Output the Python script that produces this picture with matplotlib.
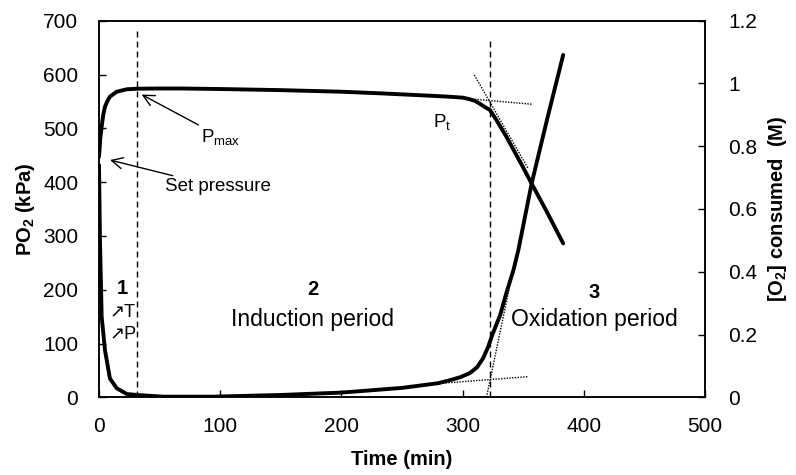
import matplotlib
matplotlib.use("Agg")
import matplotlib.pyplot as plt
import numpy as np

plt.rcParams['font.family'] = ['Liberation Sans', 'DejaVu Sans']
plt.rcParams['mathtext.fontset'] = 'custom'
plt.rcParams['mathtext.rm'] = 'Liberation Sans'
plt.rcParams['mathtext.it'] = 'Liberation Sans'
plt.rcParams['mathtext.bf'] = 'Liberation Sans:bold'

# ---- data ----
time_p = [0, 0.5, 1, 2.2, 3.5, 4.9, 7, 9.1, 14.6, 22.9, 31.6, 50, 67, 100, 149, 200,
          232, 260, 287, 300, 306, 310, 314, 318, 322.6, 328, 336, 343, 350, 357, 369, 383]
pressure = [447, 462, 480, 503, 525, 540, 551, 559, 568, 572.5, 573.6, 574, 574, 573, 571, 568,
            565, 562, 559, 557, 554, 551, 546, 540, 534, 515, 485, 456, 427, 397, 347, 286]

time_c = [0, 0.8, 2.2, 4.9, 9, 14.6, 22.9, 31.6, 53, 94, 149, 200, 250, 280, 290, 298,
          306, 312, 317, 321, 325, 331, 336, 342, 346, 357, 370, 383]
consumed = [0.74, 0.5, 0.257, 0.151, 0.06, 0.029, 0.0105, 0.0073, 0.002, 0.002, 0.0073, 0.015,
            0.03, 0.045, 0.055, 0.064, 0.077, 0.096, 0.125, 0.16, 0.204, 0.262, 0.331, 0.406,
            0.469, 0.682, 0.89, 1.091]

# vertical period boundaries (time, top pressure)
boundary_t = [31.6, 322.6]
boundary_top = [685, 670]

# tangent construction lines
tan_p_flat_t = [310, 358]
tan_p_flat_v = [554, 544.6]
tan_p_slope_t = [309.7, 354]
tan_p_slope_v = [599, 425.6]
tan_c_flat_t = [270, 354]
tan_c_flat_v = [0.041, 0.0657]
tan_c_slope_t = [319.7, 344]
tan_c_slope_v = [0.0, 0.45]

x_ticks = [0, 100, 200, 300, 400, 500]
y_ticks = [0, 100, 200, 300, 400, 500, 600, 700]
y2_ticks = [0, 0.2, 0.4, 0.6, 0.8, 1.0, 1.2]
y2_labels = ['0', '0.2', '0.4', '0.6', '0.8', '1', '1.2']

# ---- figure ----
fig = plt.figure(figsize=(7.96, 4.75), dpi=100)
ax = fig.add_axes([99/796, 1-397.3/475, (705-99)/796, (397.3-20.7)/475])
ax2 = ax.twinx()

ax.plot(time_p, pressure, color='black', lw=2.8, solid_capstyle='round',
        solid_joinstyle='round', zorder=3)
ax2.plot(time_c, consumed, color='black', lw=2.8, solid_capstyle='round',
         solid_joinstyle='round', zorder=3)

for t, top in zip(boundary_t, boundary_top):
    ax.plot([t, t], [0, top], color='black', lw=1.0, ls=(0, (4.3, 2.9)), zorder=2)

ax.plot(tan_p_flat_t, tan_p_flat_v, color='black', lw=1.0, ls=(0, (1, 1)), zorder=2)
ax.plot(tan_p_slope_t, tan_p_slope_v, color='black', lw=1.0, ls=(0, (1, 1)), zorder=2)
ax2.plot(tan_c_flat_t, tan_c_flat_v, color='black', lw=1.0, ls=(0, (1, 1)), zorder=2)
ax2.plot(tan_c_slope_t, tan_c_slope_v, color='black', lw=1.0, ls=(0, (1, 1)), zorder=2)

ax.set_xlim(0, 500)
ax.set_ylim(0, 700)
ax2.set_ylim(0, 1.2)
ax.set_xticks(x_ticks)
ax.set_yticks(y_ticks)
ax2.set_yticks(y2_ticks)
ax2.set_yticklabels(y2_labels)

for a in (ax, ax2):
    for s in a.spines.values():
        s.set_linewidth(1.1)
ax.tick_params(axis='both', direction='in', length=5, width=1.0, labelsize=15)
ax.tick_params(axis='y', pad=15)
ax.tick_params(axis='x', pad=14)
ax2.tick_params(axis='y', direction='in', length=5, width=1.0, labelsize=15, pad=17)

ax.set_xlabel('Time (min)', fontsize=14.5, fontweight='bold', labelpad=10)
ax.set_ylabel(r'PO$_\mathbf{2}$ (kPa)', fontsize=14.5, fontweight='bold', labelpad=4)
ax2.set_ylabel(r'[O$_\mathbf{2}$] consumed  (M)', fontsize=14.5, fontweight='bold', labelpad=6)

# annotations
ax.annotate(r'P$_{\mathrm{max}}$', xy=(35.2, 562.7), xytext=(84.3, 484),
            fontsize=13.5, va='center', ha='left',
            arrowprops=dict(arrowstyle='->', lw=1.0, color='black',
                            shrinkA=0, shrinkB=0, mutation_scale=20))
ax.annotate('Set pressure', xy=(9.1, 441), xytext=(54.5, 391),
            fontsize=13.5, va='center', ha='left',
            arrowprops=dict(arrowstyle='->', lw=1.0, color='black',
                            shrinkA=0, shrinkB=0, mutation_scale=20))
ax.text(275.8, 511.7, r'P$_{\mathrm{t}}$', fontsize=13.5, va='center', ha='left')

ax.text(19.5, 203, '1', fontsize=14.5, fontweight='bold', ha='center', va='center')
ax.text(9, 157.6, '↗T', fontsize=13, ha='left', va='center',
        family=['Liberation Sans', 'DejaVu Sans'])
ax.text(9, 116, '↗P', fontsize=13, ha='left', va='center',
        family=['Liberation Sans', 'DejaVu Sans'])

ax.text(176.5, 201, '2', fontsize=14.5, fontweight='bold', ha='center', va='center')
ax.text(176.5, 143.7, 'Induction period', fontsize=16.5, ha='center', va='center')
ax.text(408.5, 195, '3', fontsize=14.5, fontweight='bold', ha='center', va='center')
ax.text(408.7, 143.7, 'Oxidation period', fontsize=16.5, ha='center', va='center')

fig.savefig('out.png', dpi=100)
